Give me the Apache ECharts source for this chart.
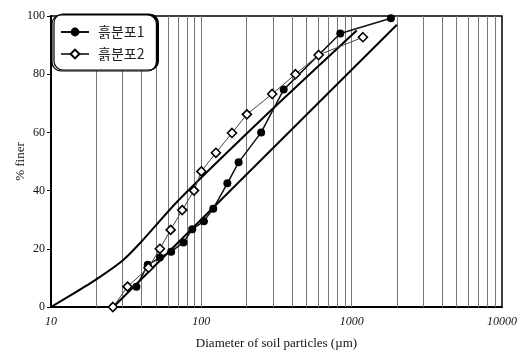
<!DOCTYPE html>
<html>
<head>
<meta charset="utf-8">
<script src="https://cdn.jsdelivr.net/npm/echarts@6/dist/echarts.min.js"></script>
<style>
  html, body { margin: 0; padding: 0; background: #fff; }
  #chart { width: 519px; height: 356px; }
</style>
</head>
<body>
<div id="chart"></div>
<script>
// 입도분포 곡선 — 두 시료와 상·하한 범위선
const SERIES_NAMES = ['흙분포1', '흙분포2']

// [diameter (µm), % finer]
const soil1 = [
  [37, 7], [44, 14.5], [53, 17], [63, 19], [76, 22.2], [87, 26.7], [104, 29.5],
  [120, 33.8], [149, 42.5], [177, 49.7], [250, 60], [353, 74.7], [840, 94], [1824, 99.2],
]
const soil2 = [
  [25.8, 0], [32.3, 7], [44.5, 13.5], [53, 20], [62.5, 26.5], [74.6, 33.3], [89.4, 40],
  [100, 46.6], [125, 53], [160, 59.8], [201, 66.2], [296, 73.2], [423, 80], [603, 86.6],
  [1188, 92.7],
]
// envelope lines
const upperBound = [[10, 0], [14, 4.5], [20, 9.5], [30, 16], [40, 22.5], [70, 36.5], [290, 67.5], [1080, 95]]
const lowerBound = [[26, 0], [2000, 97]]

// vertical grid lines (log decades)
const gridValues = [
  20, 30, 40, 50, 60, 70, 80, 90, 100,
  200, 300, 400, 500, 600, 700, 800, 900, 1000,
  2000, 3000, 4000, 5000, 6000, 7000, 8000, 9000,
]

const SERIF = '"Liberation Serif", "DejaVu Serif", serif'

const chart = echarts.init(document.getElementById('chart'), null, { renderer: 'canvas' })

const boundStyle = {
  type: 'line',
  showSymbol: false,
  symbol: 'none',
  smooth: 0.2,
  lineStyle: { color: '#000', width: 2 },
  silent: true,
  z: 3,
}

chart.setOption({
  animation: false,
  backgroundColor: '#fff',
  grid: {
    left: 51, right: 17, top: 16, bottom: 49,
    outerBoundsMode: 'none',
    containLabel: false,
    show: true, borderColor: '#000', borderWidth: 1.5,
  },
  legend: {
    data: SERIES_NAMES,
    orient: 'vertical',
    left: 52, top: 15,
    padding: [10, 12, 10, 8],
    itemGap: 8,
    itemWidth: 28, itemHeight: 11,
    backgroundColor: '#fff',
    borderColor: '#000', borderWidth: 1.2, borderRadius: 9,
    shadowColor: '#000', shadowOffsetX: 2, shadowOffsetY: -1, shadowBlur: 0,
    textStyle: { fontFamily: '"Noto Sans CJK KR", sans-serif', fontSize: 14, color: '#222', padding: [0, 0, 0, 4] },
  },
  xAxis: {
    type: 'log',
    logBase: 10,
    min: 10, max: 10000,
    name: 'Diameter of soil particles (µm)',
    nameLocation: 'middle',
    nameGap: 30,
    nameTextStyle: { fontFamily: SERIF, fontSize: 13, color: '#111' },
    axisLine: { lineStyle: { color: '#000', width: 2 } },
    axisTick: { show: false },
    splitLine: { show: false },
    axisLabel: {
      fontFamily: SERIF, fontStyle: 'italic', fontSize: 12, color: '#111', margin: 9,
      formatter: (v) => String(Math.round(v)),
    },
  },
  yAxis: {
    type: 'value',
    min: 0, max: 100, interval: 20,
    name: '% finer',
    nameLocation: 'middle',
    nameGap: 24,
    nameMoveOverlap: false,
    nameTextStyle: { fontFamily: SERIF, fontSize: 13, color: '#111' },
    axisLine: { show: true, lineStyle: { color: '#000', width: 2 } },
    axisTick: { show: true, length: 4, lineStyle: { color: '#000' } },
    splitLine: { show: false },
    axisLabel: { fontFamily: SERIF, fontSize: 12, color: '#111', margin: 6 },
  },
  series: [
    {
      name: SERIES_NAMES[0],
      type: 'line',
      data: soil1,
      symbol: 'circle',
      symbolSize: 8,
      itemStyle: { color: '#000' },
      lineStyle: { color: '#111', width: 1.5 },
      z: 5,
      markLine: {
        silent: true,
        symbol: 'none',
        label: { show: false },
        lineStyle: { color: '#777', width: 1, type: 'solid' },
        data: gridValues.map((v) => ({ xAxis: v })),
        z: 1,
      },
    },
    {
      name: SERIES_NAMES[1],
      type: 'line',
      data: soil2,
      symbol: 'diamond',
      symbolSize: 9,
      itemStyle: { color: '#fff', borderColor: '#000', borderWidth: 1.6 },
      lineStyle: { color: '#444', width: 1 },
      z: 6,
    },
    { ...boundStyle, name: 'upper', data: upperBound },
    { ...boundStyle, name: 'lower', data: lowerBound },
  ],
})
</script>
</body>
</html>
